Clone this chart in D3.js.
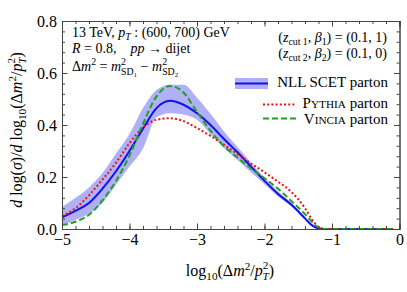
<!DOCTYPE html>
<html>
<head>
<meta charset="utf-8">
<script src="https://cdn.jsdelivr.net/npm/d3@7"></script>
<style>
  html, body { margin: 0; padding: 0; background: #fff; }
  svg text { font-family: "Liberation Serif", "Times New Roman", serif; fill: #000; white-space: pre; }
</style>
</head>
<body>
<div id="chart"></div>
<script>

// grid in log10(dm^2/pT^2)
var xs        = [-5, -4.8, -4.6, -4.4, -4.2, -4.0, -3.8, -3.6, -3.4, -3.2, -3.0, -2.8, -2.6, -2.4, -2.2, -2.0, -1.8, -1.6, -1.4, -1.3, -1.2, -1.1, -1.0, -0.1];
// NLL SCET parton, central + band
var nll       = [0.045, 0.07, 0.10, 0.155, 0.222, 0.30, 0.386, 0.465, 0.493, 0.478, 0.445, 0.40, 0.346, 0.295, 0.24, 0.185, 0.135, 0.093, 0.041, 0.015, 0.002, 0, 0, 0];
var nll_hi    = [0.085, 0.12, 0.16, 0.215, 0.29, 0.365, 0.465, 0.535, 0.555, 0.555, 0.505, 0.443, 0.375, 0.315, 0.255, 0.198, 0.145, 0.099, 0.045, 0.017, 0.003, 0.001, 0.001, 0.001];
var nll_lo    = [0.015, 0.035, 0.06, 0.10, 0.17, 0.24, 0.31, 0.43, 0.445, 0.44, 0.42, 0.365, 0.312, 0.265, 0.218, 0.172, 0.125, 0.086, 0.036, 0.012, 0.001, 0, 0, 0];
// Pythia parton
var pythia    = [0.05, 0.08, 0.13, 0.19, 0.255, 0.33, 0.39, 0.42, 0.426, 0.415, 0.388, 0.358, 0.324, 0.288, 0.252, 0.218, 0.182, 0.142, 0.08, 0.038, 0.008, 0, 0, 0];
// Vincia parton
var vincia    = [0.015, 0.028, 0.055, 0.11, 0.185, 0.282, 0.405, 0.51, 0.55, 0.525, 0.45, 0.378, 0.318, 0.275, 0.233, 0.195, 0.155, 0.107, 0.057, 0.029, 0.006, 0, 0, 0];

var x_ticks   = [-5, -4, -3, -2, -1, 0];
var y_ticks   = [0, 0.2, 0.4, 0.6, 0.8];

var width = 407, height = 292;
var margin = { left: 62, right: 7.5, top: 21, bottom: 63 };

var svg = d3.select('#chart').append('svg')
  .attr('width', width)
  .attr('height', height);

var x = d3.scaleLinear().domain([-5, 0]).range([margin.left, width - margin.right]);
var y = d3.scaleLinear().domain([0, 0.8]).range([height - margin.bottom, margin.top]);

// helper: text made of tspans (italic, sub, sup ...)
function rich(sel, parts, fs) {
  var cur = 0;
  parts.forEach(function (p) {
    var sh = (p.b || 0) * fs;
    var ts = sel.append('tspan').text(p.t)
      .attr('font-size', (p.s || 1) * fs)
      .attr('dy', cur - sh);
    if (p.i) { ts.attr('font-style', 'italic'); }
    if (p.dx) { ts.attr('dx', p.dx * fs); }
    cur = sh;
  });
  return sel;
}

var rows = xs.map(function (d, i) {
  return { x: d, nll: nll[i], hi: nll_hi[i], lo: nll_lo[i], py: pythia[i], vi: vincia[i] };
});

var curve = d3.curveMonotoneX;

// band
svg.append('path')
  .datum(rows)
  .attr('fill', '#b0b0f6')
  .attr('d', d3.area().curve(curve)
    .x(function (d) { return x(d.x); })
    .y0(function (d) { return y(d.lo); })
    .y1(function (d) { return y(d.hi); }));

function line_of(key) {
  return d3.line().curve(curve)
    .x(function (d) { return x(d.x); })
    .y(function (d) { return y(d[key]); });
}

svg.append('path').datum(rows)
  .attr('fill', 'none').attr('stroke', '#1010ee').attr('stroke-width', 2)
  .attr('d', line_of('nll'));

svg.append('path').datum(rows)
  .attr('fill', 'none').attr('stroke', '#ee1111').attr('stroke-width', 2)
  .attr('stroke-dasharray', '2,2.2')
  .attr('d', line_of('py'));

svg.append('path').datum(rows)
  .attr('fill', 'none').attr('stroke', '#22a022').attr('stroke-width', 2)
  .attr('stroke-dasharray', '6,3')
  .attr('d', line_of('vi'));

// axes: ticks inward on all four sides
var x_minor = d3.range(-5, 0.001, 0.2);
var y_minor = d3.range(0, 0.801, 0.04);

function frameAxis(axisFn, scale, tx, ty, majors, minors, labels, fmt) {
  var g = svg.append('g').attr('transform', 'translate(' + tx + ',' + ty + ')');
  g.call(axisFn(scale).tickValues(minors).tickSize(-3).tickFormat(''));
  var g2 = svg.append('g').attr('transform', 'translate(' + tx + ',' + ty + ')');
  g2.call(axisFn(scale).tickValues(majors).tickSize(-5.5).tickPadding(labels ? 5 : 0)
    .tickFormat(labels ? fmt : ''));
  [g, g2].forEach(function (gg) {
    gg.selectAll('.domain').attr('stroke', '#444');
    gg.selectAll('.tick line').attr('stroke', '#444');
    gg.selectAll('.tick text').attr('font-family', '"Liberation Serif", serif').attr('font-size', 16).attr('fill', '#000');
  });
  return g2;
}

var fx = function (d) { return d3.format('d')(d).replace('-', '\u2212'); };
var fy = d3.format('.1f');

frameAxis(d3.axisBottom, x, 0, y(0), x_ticks, x_minor, true, fx);
frameAxis(d3.axisTop, x, 0, y(0.8), x_ticks, x_minor, false, fx);
frameAxis(d3.axisLeft, y, x(-5), 0, y_ticks, y_minor, true, fy);
frameAxis(d3.axisRight, y, x(0), 0, y_ticks, y_minor, false, fy);

// axis titles
var xl = svg.append('text').attr('x', 230).attr('y', 276).attr('text-anchor', 'middle');
rich(xl, [
  { t: 'log' }, { t: '10', s: 0.7, b: -0.25 }, { t: '(\u0394' }, { t: 'm', i: true }, { t: '2', s: 0.7, b: 0.4 },
  { t: '/' }, { t: 'p', i: true }, { t: '2', s: 0.7, b: 0.42 }, { t: 'T', s: 0.7, i: true, b: -0.25, dx: -0.36 }, { t: ')' }
], 16);

var yl = svg.append('text')
  .attr('transform', 'translate(22,130) rotate(-90)')
  .attr('text-anchor', 'middle');
rich(yl, [
  { t: 'd', i: true }, { t: ' log(' }, { t: '\u03c3', i: true }, { t: ')/' }, { t: 'd', i: true }, { t: ' log' },
  { t: '10', s: 0.7, b: -0.25 }, { t: '(\u0394' }, { t: 'm', i: true }, { t: '2', s: 0.7, b: 0.4 },
  { t: '/' }, { t: 'p', i: true }, { t: '2', s: 0.7, b: 0.42 }, { t: 'T', s: 0.7, i: true, b: -0.25, dx: -0.36 }, { t: ')' }
], 16);

// annotations, top left
var fsa = 14;
var a1 = svg.append('text').attr('x', 72).attr('y', 37);
rich(a1, [{ t: '13 TeV, ' }, { t: 'p', i: true }, { t: 'T', i: true, s: 0.7, b: -0.18 }, { t: ' : (600, 700) GeV' }], fsa);
var a2 = svg.append('text').attr('x', 72).attr('y', 53);
rich(a2, [{ t: 'R', i: true }, { t: ' = 0.8,    ' }, { t: 'pp', i: true }, { t: ' \u2192 dijet' }], fsa);
var a3 = svg.append('text').attr('x', 72).attr('y', 71);
rich(a3, [
  { t: '\u0394' }, { t: 'm', i: true }, { t: '2', s: 0.7, b: 0.4 }, { t: ' = ' },
  { t: 'm', i: true }, { t: '2', s: 0.7, b: 0.45 }, { t: 'SD', s: 0.7, b: -0.3, dx: -0.35 }, { t: '1', s: 0.5, b: -0.45 },
  { t: ' \u2212 ' },
  { t: 'm', i: true }, { t: '2', s: 0.7, b: 0.45 }, { t: 'SD', s: 0.7, b: -0.3, dx: -0.35 }, { t: '2', s: 0.5, b: -0.45 }
], fsa);

// annotations, top right
var b1 = svg.append('text').attr('x', 387).attr('y', 42).attr('text-anchor', 'end');
rich(b1, [{ t: '(' }, { t: 'z', i: true }, { t: 'cut 1', s: 0.7, b: -0.2 }, { t: ', ' }, { t: '\u03b2', i: true },
  { t: '1', s: 0.7, b: -0.2 }, { t: ') = (0.1, 1)' }], fsa);
var b2 = svg.append('text').attr('x', 387).attr('y', 58).attr('text-anchor', 'end');
rich(b2, [{ t: '(' }, { t: 'z', i: true }, { t: 'cut 2', s: 0.7, b: -0.2 }, { t: ', ' }, { t: '\u03b2', i: true },
  { t: '2', s: 0.7, b: -0.2 }, { t: ') = (0.1, 0)' }], fsa);

// legend
var leg = svg.append('g');
leg.append('rect').attr('x', 235).attr('y', 78).attr('width', 33).attr('height', 11).attr('fill', '#b0b0f6');
leg.append('line').attr('x1', 235).attr('x2', 268).attr('y1', 83.5).attr('y2', 83.5)
  .attr('stroke', '#1010ee').attr('stroke-width', 2);
leg.append('line').attr('x1', 263).attr('x2', 296).attr('y1', 104.5).attr('y2', 104.5)
  .attr('stroke', '#ee1111').attr('stroke-width', 2).attr('stroke-dasharray', '2,2.2');
leg.append('line').attr('x1', 263).attr('x2', 296).attr('y1', 118.5).attr('y2', 118.5)
  .attr('stroke', '#22a022').attr('stroke-width', 2).attr('stroke-dasharray', '6,3');

var fsl = 15;
leg.append('text').attr('x', 388).attr('y', 87).attr('text-anchor', 'end').attr('font-size', fsl).text('NLL SCET parton');
var l2 = leg.append('text').attr('x', 388).attr('y', 108).attr('text-anchor', 'end');
rich(l2, [{ t: 'P' }, { t: 'YTHIA', s: 0.75 }, { t: ' parton' }], fsl);
var l3 = leg.append('text').attr('x', 388).attr('y', 124).attr('text-anchor', 'end');
rich(l3, [{ t: 'V' }, { t: 'INCIA', s: 0.75 }, { t: ' parton' }], fsl);

</script>
</body>
</html>
